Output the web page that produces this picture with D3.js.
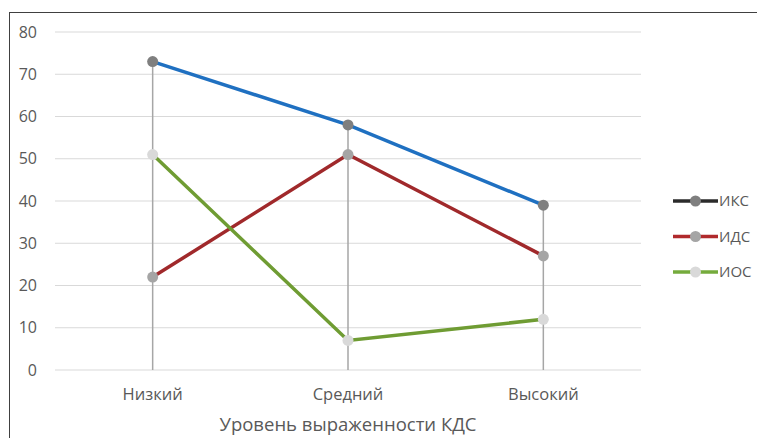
<!DOCTYPE html>
<html>
<head>
<meta charset="utf-8">
<script src="https://cdn.jsdelivr.net/npm/d3@7"></script>
<style>
  body { margin: 0; background: #fff; }
  text { font-family: "Open Sans", "DejaVu Sans", sans-serif; fill: #595959; }
</style>
</head>
<body>
<div id="chart"></div>
<script>
var categories = ["Низкий", "Средний", "Высокий"];
var seriesNames = ["ИКС", "ИДС", "ИОС"];
var iksValues = [73, 58, 39];
var idsValues = [22, 51, 27];
var iosValues = [51, 7, 12];
var yTicks = [0, 10, 20, 30, 40, 50, 60, 70, 80];

var seriesData = [
    { name: seriesNames[0], values: iksValues, color: "#1f70c1", legendColor: "#2b2b2b", marker: "#7f7f7f" },
    { name: seriesNames[1], values: idsValues, color: "#a0292b", legendColor: "#b02a2c", marker: "#a5a5a5" },
    { name: seriesNames[2], values: iosValues, color: "#6f9c33", legendColor: "#75ab3c", marker: "#d9d9d9" }
];

var width = 757, height = 438;
var plot = { left: 55, right: 641, top: 32, bottom: 370 };

var svg = d3.select("#chart")
    .append("svg")
    .attr("width", width)
    .attr("height", height);

// border
svg.append("rect")
    .attr("x", 9.5).attr("y", 12.5)
    .attr("width", 760).attr("height", 440)
    .attr("fill", "none")
    .attr("stroke", "#404040")
    .attr("stroke-width", 1);

var x = d3.scaleBand()
    .domain(categories)
    .range([plot.left, plot.right]);

var y = d3.scaleLinear()
    .domain([0, 80])
    .range([plot.bottom, plot.top]);

function cx(c) { return x(c) + x.bandwidth() / 2; }

// gridlines
svg.append("g")
    .selectAll("line")
    .data(yTicks)
    .enter()
    .append("line")
    .attr("x1", plot.left).attr("x2", plot.right)
    .attr("y1", function(d) { return y(d); })
    .attr("y2", function(d) { return y(d); })
    .attr("stroke", "#d9d9d9")
    .attr("stroke-width", 1.2);

// y tick labels
svg.append("g")
    .selectAll("text")
    .data(yTicks)
    .enter()
    .append("text")
    .attr("x", 37)
    .attr("y", function(d) { return y(d); })
    .attr("dy", "0.35em")
    .attr("text-anchor", "end")
    .style("font-size", "16px")
    .text(function(d) { return d; });

// drop lines
svg.append("g")
    .selectAll("line")
    .data(categories)
    .enter()
    .append("line")
    .attr("x1", function(d) { return cx(d); })
    .attr("x2", function(d) { return cx(d); })
    .attr("y1", function(d, i) { return y(d3.max(seriesData, function(s) { return s.values[i]; })); })
    .attr("y2", plot.bottom)
    .attr("stroke", "#a6a6a6")
    .attr("stroke-width", 1.5);

var line = d3.line()
    .x(function(d, i) { return cx(categories[i]); })
    .y(function(d) { return y(d); });

// lines
svg.append("g")
    .selectAll("path")
    .data(seriesData)
    .enter()
    .append("path")
    .attr("d", function(s) { return line(s.values); })
    .attr("fill", "none")
    .attr("stroke", function(s) { return s.color; })
    .attr("stroke-width", 3.5);

// markers
seriesData.forEach(function(s) {
    svg.append("g")
        .selectAll("circle")
        .data(s.values)
        .enter()
        .append("circle")
        .attr("cx", function(d, i) { return cx(categories[i]); })
        .attr("cy", function(d) { return y(d); })
        .attr("r", 5.5)
        .attr("fill", s.marker);
});

// category labels
svg.append("g")
    .selectAll("text")
    .data(categories)
    .enter()
    .append("text")
    .attr("x", function(d) { return cx(d); })
    .attr("y", 400)
    .attr("text-anchor", "middle")
    .style("font-size", "16.5px")
    .text(function(d) { return d; });

// axis title
svg.append("text")
    .attr("x", cx(categories[1]))
    .attr("y", 431)
    .attr("text-anchor", "middle")
    .style("font-size", "18.5px")
    .text("Уровень выраженности КДС");

// legend
var legend = svg.append("g")
    .selectAll("g")
    .data(seriesData)
    .enter()
    .append("g")
    .attr("transform", function(d, i) { return "translate(673," + (201 + i * 35.5) + ")"; });

legend.append("line")
    .attr("x1", 0).attr("x2", 45)
    .attr("stroke", function(d) { return d.legendColor; })
    .attr("stroke-width", 3.5);

legend.append("circle")
    .attr("cx", 22.5)
    .attr("r", 5.5)
    .attr("fill", function(d) { return d.marker; });

legend.append("text")
    .attr("x", 46)
    .attr("dy", "0.35em")
    .style("font-size", "15px")
    .text(function(d) { return d.name; });
</script>
</body>
</html>
